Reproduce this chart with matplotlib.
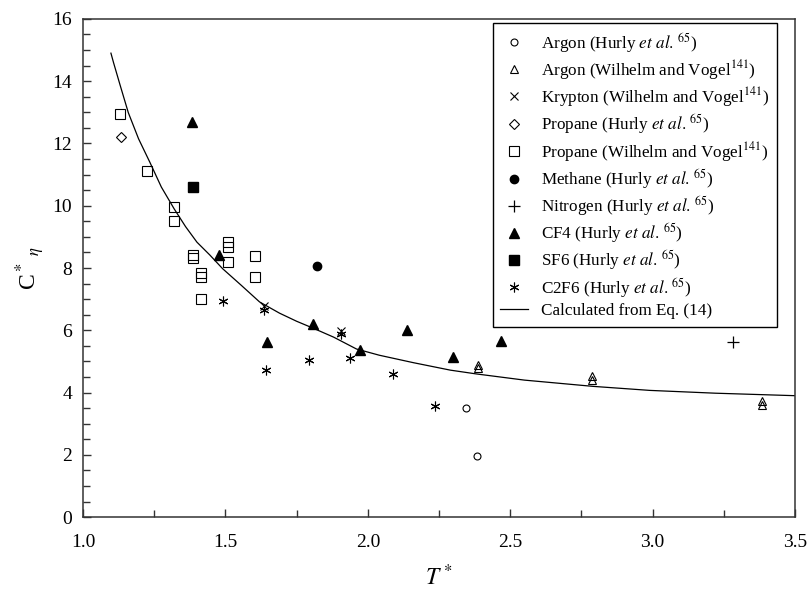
import matplotlib
matplotlib.use("Agg")
import matplotlib.pyplot as plt
from matplotlib.ticker import MultipleLocator

plt.rcParams['font.family'] = ['Liberation Serif', 'DejaVu Serif']
plt.rcParams['mathtext.fontset'] = 'stix'

# data (T*, C*eta)
argon_hurly_x = [2.345, 2.382]
argon_hurly_y = [3.50, 1.95]
argon_wv_x = [2.387, 2.387, 2.788, 2.788, 3.385, 3.385]
argon_wv_y = [4.88, 4.78, 4.52, 4.40, 3.72, 3.60]
krypton_x = [1.635, 1.905]
krypton_y = [6.78, 5.98]
propane_hurly_x = [1.133]
propane_hurly_y = [12.2]
propane_wv_x = [1.13, 1.224, 1.321, 1.321, 1.385, 1.385, 1.415, 1.415, 1.415,
                1.509, 1.509, 1.509, 1.603, 1.603]
propane_wv_y = [12.95, 11.1, 9.95, 9.52, 8.42, 8.32, 7.85, 7.72, 7.02,
                8.85, 8.68, 8.18, 8.40, 7.70]
methane_x = [1.823]
methane_y = [8.05]
nitrogen_x = [3.283]
nitrogen_y = [5.62]
cf4_x = [1.383, 1.476, 1.645, 1.809, 1.973, 2.138, 2.300, 2.467]
cf4_y = [12.7, 8.42, 5.62, 6.20, 5.38, 6.02, 5.13, 5.65]
sf6_x = [1.385]
sf6_y = [10.6]
c2f6_x = [1.493, 1.635, 1.643, 1.792, 1.905, 1.939, 2.088, 2.236]
c2f6_y = [6.95, 6.65, 4.72, 5.03, 5.88, 5.10, 4.60, 3.57]

# curve from Eq. (14), traced
calc_x = [1.098, 1.107, 1.13, 1.159, 1.195, 1.235, 1.275, 1.32, 1.36, 1.40,
          1.445, 1.49, 1.555, 1.62, 1.69, 1.75, 1.81, 1.88, 1.96, 2.04,
          2.16, 2.29, 2.38, 2.55, 2.79, 2.99, 3.22, 3.50]
calc_y = [14.9, 14.6, 13.88, 12.99, 12.15, 11.39, 10.6, 9.9, 9.33, 8.83,
          8.42, 7.98, 7.45, 6.91, 6.55, 6.29, 6.06, 5.78, 5.40, 5.20,
          4.96, 4.72, 4.60, 4.40, 4.20, 4.07, 3.98, 3.90]

ref_h = r'$\mathit{et\ al.}^{\,65}$'
ref_w = r'$^{141}$'

fig = plt.figure(figsize=(8.1, 5.91), dpi=100)
ax = fig.add_axes([0.1025, 0.125, 0.8790, 0.843])

ms = 6
ax.plot(argon_hurly_x, argon_hurly_y, 'o', ms=5, mfc='none', mec='k', mew=0.8,
        label='Argon (Hurly ' + ref_h + ')')
ax.plot(argon_wv_x, argon_wv_y, '^', ms=ms, mfc='none', mec='k', mew=0.8,
        label='Argon (Wilhelm and Vogel' + ref_w + ')')
ax.plot(krypton_x, krypton_y, 'x', ms=ms, mec='k', mew=0.8,
        label='Krypton (Wilhelm and Vogel' + ref_w + ')')
ax.plot(propane_hurly_x, propane_hurly_y, 'D', ms=5, mfc='none', mec='k', mew=0.8,
        label='Propane (Hurly ' + ref_h + ')')
ax.plot(propane_wv_x, propane_wv_y, 's', ms=7, mfc='none', mec='k', mew=0.8,
        label='Propane (Wilhelm and Vogel' + ref_w + ')')
ax.plot(methane_x, methane_y, 'o', ms=ms, mfc='k', mec='k',
        label='Methane (Hurly ' + ref_h + ')')
ax.plot(nitrogen_x, nitrogen_y, '+', ms=8, mec='k', mew=0.9,
        label='Nitrogen (Hurly ' + ref_h + ')')
ax.plot(cf4_x, cf4_y, '^', ms=7, mfc='k', mec='k',
        label='CF4 (Hurly ' + ref_h + ')')
ax.plot(sf6_x, sf6_y, 's', ms=7, mfc='k', mec='k',
        label='SF6 (Hurly ' + ref_h + ')')
ax.plot(c2f6_x, c2f6_y, marker=(6, 2, 0), ls='none', ms=7, mec='k', mew=0.8,
        label='C2F6 (Hurly ' + ref_h + ')')
ax.plot(calc_x, calc_y, '-', color='k', lw=0.9, label='Calculated from Eq. (14)')

ax.set_xlim(1.0, 3.5)
ax.set_ylim(0, 16)
ax.xaxis.set_major_locator(MultipleLocator(0.5))
ax.xaxis.set_minor_locator(MultipleLocator(0.25))
ax.yaxis.set_major_locator(MultipleLocator(2))
ax.yaxis.set_minor_locator(MultipleLocator(0.5))
ax.xaxis.set_major_formatter(plt.FormatStrFormatter('%.1f'))
ax.tick_params(which='both', direction='in', top=False, right=False,
               labelsize=14, width=1, color='#333333')
ax.tick_params(which='major', length=6)
ax.tick_params(which='minor', length=5)
ax.tick_params(axis='x', which='major', pad=12)
ax.tick_params(axis='y', which='major', pad=8)
for sp in ax.spines.values():
    sp.set_linewidth(1.1)
    sp.set_color('#333333')

ax.set_xlabel(r'$T^*$', fontsize=17, labelpad=10)
ax.set_ylabel(r'C$^*$$_{\ \eta}$', fontsize=17, labelpad=4)

leg = ax.legend(loc='upper right', bbox_to_anchor=(0.975, 0.992), borderaxespad=0,
                fontsize=12.3, frameon=True, fancybox=False, framealpha=1,
                edgecolor='k', handlelength=1.6, handletextpad=0.8,
                labelspacing=0.19, borderpad=0.45, numpoints=1)
leg.get_frame().set_linewidth(1.0)

fig.savefig('out.png', dpi=100)
